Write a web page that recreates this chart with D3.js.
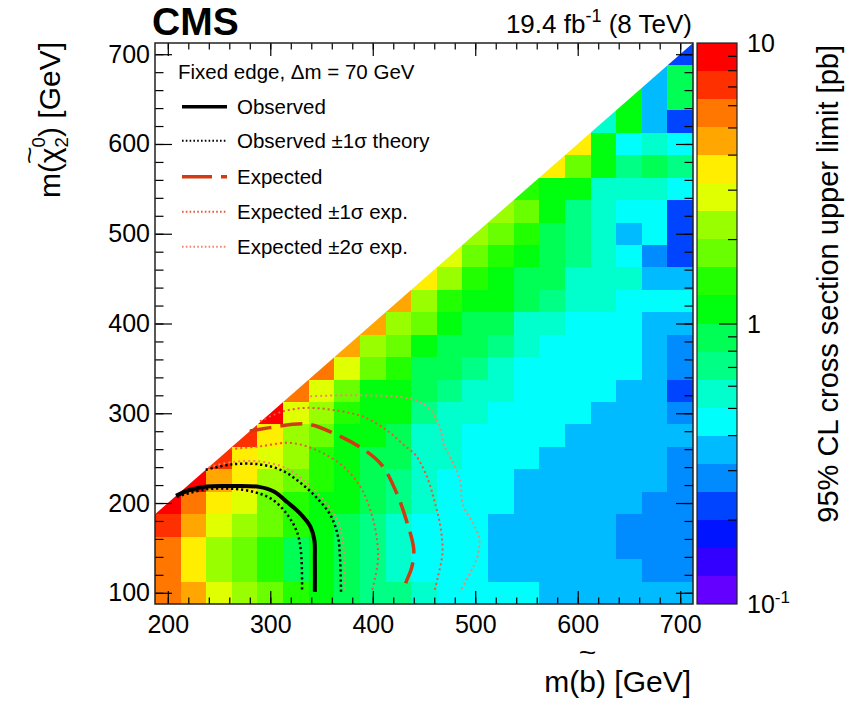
<!DOCTYPE html>
<html><head><meta charset="utf-8">
<script src="https://cdn.jsdelivr.net/npm/d3@7"></script>
<style>
body{margin:0;background:#fff;}
svg{display:block;font-family:"Liberation Sans",Arial,Helvetica,sans-serif;}
</style>
</head><body>
<svg id="chart" width="854" height="707"></svg>
<script>
// ---------------- DATA ----------------
// bin centres
const mSbottom = [200,225,250,275,300,325,350,375,400,425,450,475,500,525,550,575,600,625,650,675,700];
const mChi2    = [100,125,150,175,200,225,250,275,300,325,350,375,400,425,450,475,500,525,550,575,600,625,650,675,700];
// 95% CL cross-section upper limit [pb]; row i = mChi2[i], first entry is column max(0,i-4)
const xsecLimit = [
 [5.62,4.47,2.82,2.24,1.78,1.41,1.12,0.89,0.71,0.71,0.56,0.45,0.45,0.45,0.45,0.35,0.35,0.35,0.35,0.35,0.35],
 [5.62,3.55,2.24,1.78,1.41,0.89,1.12,0.89,0.71,0.56,0.45,0.45,0.45,0.35,0.35,0.35,0.35,0.35,0.35,0.28,0.28],
 [5.62,3.55,2.24,1.78,1.41,0.89,1.12,0.89,0.71,0.56,0.45,0.45,0.45,0.35,0.35,0.35,0.35,0.35,0.28,0.28,0.28],
 [7.08,4.47,2.82,2.24,1.78,1.41,1.12,0.89,0.71,0.56,0.45,0.45,0.45,0.35,0.35,0.35,0.35,0.35,0.28,0.28,0.28],
 [8.91,5.62,3.55,2.82,1.78,1.41,1.12,1.12,0.89,0.71,0.56,0.45,0.45,0.45,0.35,0.35,0.35,0.35,0.35,0.28,0.28],
 [8.91,4.47,3.55,2.24,1.78,1.41,1.12,0.89,0.71,0.56,0.45,0.45,0.45,0.35,0.35,0.35,0.35,0.35,0.35,0.28],
 [7.08,3.55,2.82,2.24,1.41,1.12,0.89,0.89,0.56,0.56,0.45,0.45,0.45,0.35,0.35,0.35,0.35,0.35,0.28],
 [7.08,3.55,2.24,1.78,1.12,1.12,0.89,0.56,0.56,0.45,0.45,0.45,0.45,0.35,0.35,0.35,0.35,0.35],
 [8.91,2.82,2.24,1.41,1.12,1.12,0.71,0.56,0.56,0.45,0.45,0.45,0.45,0.35,0.35,0.35,0.28],
 [5.62,2.82,1.78,1.12,1.12,0.89,0.71,0.56,0.56,0.45,0.45,0.45,0.45,0.35,0.35,0.22],
 [5.62,2.82,1.78,1.41,0.89,0.89,0.71,0.56,0.45,0.45,0.45,0.45,0.45,0.35,0.28],
 [4.47,2.24,1.78,1.12,0.89,0.89,0.71,0.56,0.45,0.45,0.45,0.45,0.35,0.28],
 [4.47,2.24,1.78,1.12,0.89,0.89,0.56,0.56,0.45,0.45,0.45,0.35,0.35],
 [4.47,2.24,1.41,1.12,1.12,0.89,0.71,0.56,0.56,0.45,0.45,0.45],
 [3.55,2.24,1.41,1.12,0.89,0.89,0.56,0.56,0.56,0.35,0.35],
 [2.82,1.78,1.41,1.12,0.89,0.71,0.56,0.45,0.28,0.22],
 [2.24,1.78,1.41,0.89,0.71,0.56,0.35,0.45,0.22],
 [2.24,1.78,1.12,0.71,0.56,0.45,0.45,0.22],
 [1.41,1.12,1.12,0.56,0.56,0.56,0.45],
 [3.55,1.78,1.12,0.71,0.89,0.71],
 [3.55,1.12,0.45,0.56,0.45],
 [0.56,1.12,0.35,0.22],
 [1.12,0.35,0.89],
 [0.35,0.89],
 [0.22]
];
// contours [m(sbottom), m(chi2)] in GeV
const observed     = [[208,208],[221,214.5],[238,218.5],[262,219],[289,218],[304,212.6],[316,201.5],[329,188.5],[339,174],[343,159],[343.5,137],[343.5,101]];
const obsTheoryUp  = [[237,237],[262,243],[290,243],[312,236],[330,222],[346,205],[359,186],[366,163],[368,140],[369,101]];
const obsTheoryDn  = [[209,207],[236,215],[262,216],[285,212],[302,204],[316,188],[326,168],[330,145],[331,101]];
const expected     = [[280,280],[300,284],[336,288],[365,276],[392,259],[409,242],[423,212],[433,180],[440,148],[438,128],[432,110],[431,101]];
const expMinus1    = [[261,260],[289,263],[320,267],[347,258],[372,240],[389,216],[399,187],[404,160],[405,135],[399,101]];
const expPlus1     = [[290,291],[312,302],[336,306],[365,303],[391,296],[415,280],[430,265],[442,253],[453,229],[460,203],[466,174],[468,145],[463,115],[460,101]];
const expMinus2    = [[240,240],[265,246],[292,246],[315,239],[333,225],[350,206],[363,186],[370,163],[372,140],[372,101]];
const expPlus2     = [[339,319],[380,320],[427,318],[447,312],[459,300],[466,282],[470,263],[477,248],[485,226],[488,198],[498,177],[504,160],[502,140],[495,122],[485,101]];
// ticks
const xMajor = [200,300,400,500,600,700];
const yMajor = [100,200,300,400,500,600,700];
const xMinor = [200,220,240,260,280,300,320,340,360,380,400,420,440,460,480,500,520,540,560,580,600,620,640,660,680,700];
const yMinor = [100,120,140,160,180,200,220,240,260,280,300,320,340,360,380,400,420,440,460,480,500,520,540,560,580,600,620,640,660,680,700];
const zMinor = [0.2,0.3,0.4,0.5,0.6,0.7,0.8,0.9,2,3,4,5,6,7,8,9];
const zMajor = [0.1,1,10];

// ---------------- SETUP ----------------
const svg = d3.select("#chart");
const X0=155, X1=693, Y0=43, Y1=604;
const x = d3.scaleLinear().domain([187.5,712.5]).range([X0,X1]);
const y = d3.scaleLinear().domain([87.5,712.5]).range([Y1,Y0]);
const z = d3.scaleLog().domain([0.1,10]).range([Y1,Y0]);
const nLev = 20;
function levelColor(j){ // ROOT "pretty" palette (50 colours) sampled for 20 contours
  const i = Math.floor((j+0.99)*50/nLev);
  const hue = 280 - (i+1)*280/50;
  return d3.hsl(hue,1,0.5).formatHex();
}
function levelOf(v){ return Math.max(0,Math.min(nLev-1,Math.floor((Math.log10(v)+1)*nLev/2))); }

// clip below diagonal
const defs = svg.append("defs");
defs.append("clipPath").attr("id","tri").append("polygon")
  .attr("points",[[x(187.5),y(187.5)],[x(712.5),y(712.5)],[x(712.5),y(87.5)],[x(187.5),y(87.5)]].map(p=>p.join(",")).join(" "));

// ---------------- HEATMAP ----------------
const cells = [];
xsecLimit.forEach((row,i)=>{
  const off = Math.max(0,i-4);
  row.forEach((v,k)=>cells.push({mx:mSbottom[off+k], my:mChi2[i], v}));
});
svg.append("g").attr("clip-path","url(#tri)").selectAll("rect").data(cells).join("rect")
  .attr("x",d=>x(d.mx-12.5)).attr("y",d=>y(d.my+12.5))
  .attr("width",d=>x(d.mx+12.5)-x(d.mx-12.5)).attr("height",d=>y(d.my-12.5)-y(d.my+12.5))
  .attr("fill",d=>levelColor(levelOf(d.v))).attr("shape-rendering","crispEdges");

// ---------------- CONTOURS ----------------
const line = d3.line().x(d=>x(d[0])).y(d=>y(d[1])).curve(d3.curveCatmullRom.alpha(0.5));
const cExp="#d13b12", c1s="#e9573a", c2s="#f2866c";
const styles = [
  {d:expPlus2, stroke:c2s, w:2, dash:"2,3"},
  {d:expMinus2, stroke:c2s, w:2, dash:"2,3"},
  {d:expPlus1, stroke:c1s, w:2, dash:"2,3"},
  {d:expMinus1, stroke:c1s, w:2, dash:"2,3"},
  {d:expected, stroke:cExp, w:3.5, dash:"22,9"},
  {d:obsTheoryUp, stroke:"#000", w:2.5, dash:"2.2,2.8"},
  {d:obsTheoryDn, stroke:"#000", w:2.5, dash:"2.2,2.8"},
  {d:observed, stroke:"#000", w:4, dash:null}
];
svg.append("g").selectAll("path").data(styles).join("path")
  .attr("d",s=>line(s.d)).attr("fill","none").attr("stroke",s=>s.stroke)
  .attr("stroke-width",s=>s.w).attr("stroke-dasharray",s=>s.dash);

// ---------------- AXES ----------------
const fsLab = 25;
function clean(g){ g.select(".domain").remove(); g.selectAll("line").attr("stroke","#000").attr("stroke-width",1.2); }
svg.append("g").attr("transform",`translate(0,${Y1})`).call(d3.axisBottom(x).tickValues(xMinor).tickSize(-6.5).tickFormat("")).call(clean);
svg.append("g").attr("transform",`translate(0,${Y1})`).call(d3.axisBottom(x).tickValues(xMajor).tickSize(-13).tickPadding(11).tickFormat(d3.format("d")))
  .call(clean).call(g=>g.selectAll("text").attr("font-size",fsLab).attr("fill","#000").attr("font-family",null));
svg.append("g").attr("transform",`translate(0,${Y0})`).call(d3.axisTop(x).tickValues(xMinor).tickSize(-6.5).tickFormat("")).call(clean);
svg.append("g").attr("transform",`translate(0,${Y0})`).call(d3.axisTop(x).tickValues(xMajor).tickSize(-13).tickFormat("")).call(clean);
svg.append("g").attr("transform",`translate(${X0},0)`).call(d3.axisLeft(y).tickValues(yMinor).tickSize(-8.5).tickFormat("")).call(clean);
svg.append("g").attr("transform",`translate(${X0},0)`).call(d3.axisLeft(y).tickValues(yMajor).tickSize(-17).tickPadding(5).tickFormat(d3.format("d")))
  .call(clean).call(g=>g.selectAll("text").attr("font-size",fsLab).attr("fill","#000").attr("font-family",null));
svg.append("g").attr("transform",`translate(${X1},0)`).call(d3.axisRight(y).tickValues(yMinor).tickSize(-8.5).tickFormat("")).call(clean);
svg.append("g").attr("transform",`translate(${X1},0)`).call(d3.axisRight(y).tickValues(yMajor).tickSize(-17).tickFormat("")).call(clean);
svg.append("rect").attr("x",X0).attr("y",Y0).attr("width",X1-X0).attr("height",Y1-Y0)
  .attr("fill","none").attr("stroke","#222").attr("stroke-width",1.5);

// ---------------- COLOUR BAR ----------------
const cbX0=697, cbX1=737;
const bands = d3.range(nLev).map(j=>({j, lo:Math.pow(10,-1+j*2/nLev), hi:Math.pow(10,-1+(j+1)*2/nLev)}));
svg.append("g").selectAll("rect").data(bands).join("rect")
  .attr("x",cbX0).attr("width",cbX1-cbX0).attr("y",d=>z(d.hi)).attr("height",d=>z(d.lo)-z(d.hi))
  .attr("fill",d=>levelColor(d.j)).attr("shape-rendering","crispEdges");
svg.append("g").attr("transform",`translate(${cbX1},0)`).call(d3.axisLeft(z).tickValues(zMinor).tickSize(9).tickFormat("")).call(clean);
svg.append("g").attr("transform",`translate(${cbX1},0)`).call(d3.axisLeft(z).tickValues([1]).tickSize(18).tickFormat("")).call(clean);
svg.append("rect").attr("x",cbX0).attr("y",Y0).attr("width",cbX1-cbX0).attr("height",Y1-Y0)
  .attr("fill","none").attr("stroke","#222").attr("stroke-width",1.2);
const zl = svg.append("g").attr("font-size",fsLab);
zMajor.forEach(v=>{
  const t = zl.append("text").attr("x",747).attr("y",z(v)+9);
  if (v===0.1){ t.append("tspan").text("10"); t.append("tspan").attr("dy",-10).attr("font-size",17).text("-1"); }
  else t.text(d3.format("d")(v));
});

// ---------------- TEXT ----------------
function rich(parent, parts, fs){
  const g = parent.append("g");
  let cx = 0;
  parts.forEach(p=>{
    const s = fs*(p.scale||1);
    const t = g.append("text").attr("x",cx).attr("y",(p.dy||0)*fs).attr("font-size",s).text(p.t);
    const w = t.node().getComputedTextLength();
    if (p.tilde!==undefined) g.append("text").attr("x",cx+w/2).attr("y",p.tilde*fs)
      .attr("text-anchor","middle").attr("font-size",fs*0.8).attr("transform-origin",`${cx+w/2} 0`)
      .attr("transform","scale(1.25,1)").text("~");
    if (!p.stack) cx += w;
  });
  return {g, w:cx};
}
const fsTit = 30;
// x title
const xt = rich(svg, [{t:"m("},{t:"b",tilde:-1.02},{t:") [GeV]"}], fsTit);
xt.g.attr("transform",`translate(${691-xt.w},692)`);
// y title
const ytHolder = svg.append("g").attr("transform","translate(60,42) rotate(-90)");
const yt = rich(ytHolder, [{t:"m("},{t:"χ",tilde:-0.72},{t:"2",scale:0.62,dy:0.28,stack:true},{t:"0",scale:0.62,dy:-0.5},{t:") [GeV]"}], fsTit);
yt.g.attr("transform",`translate(${-yt.w},0)`);
// z title
svg.append("text").attr("transform","translate(838,45) rotate(-90)").attr("text-anchor","end")
  .attr("font-size",fsTit-1).text("95% CL cross section upper limit [pb]");
// CMS + lumi
svg.append("text").attr("x",152).attr("y",35).attr("font-size",39).attr("font-weight","bold").text("CMS");
const lumi = svg.append("text").attr("x",692).attr("y",33).attr("text-anchor","end").attr("font-size",26);
lumi.append("tspan").text("19.4 fb");
lumi.append("tspan").attr("dy",-11).attr("font-size",18).text("-1");
lumi.append("tspan").attr("dy",11).text(" (8 TeV)");

// ---------------- LEGEND ----------------
const fsLeg = 20.5;
svg.append("text").attr("x",178).attr("y",79).attr("font-size",fsLeg).text("Fixed edge, \u0394m = 70 GeV");
const legend = [
  {label:"Observed", stroke:"#000", w:3.5, dash:null, y:106.7},
  {label:"Observed \u00b11\u03c3 theory", stroke:"#000", w:2, dash:"1.6,2.2", y:140.7},
  {label:"Expected", stroke:cExp, w:3.5, dash:"30,9", y:176.7},
  {label:"Expected \u00b11\u03c3 exp.", stroke:c1s, w:2, dash:"1.6,2.2", y:211.7},
  {label:"Expected \u00b12\u03c3 exp.", stroke:c2s, w:2, dash:"1.6,2.2", y:246.7}
];
const lg = svg.append("g").selectAll("g").data(legend).join("g");
lg.append("line").attr("x1",182).attr("x2",227).attr("y1",d=>d.y).attr("y2",d=>d.y)
  .attr("stroke",d=>d.stroke).attr("stroke-width",d=>d.w).attr("stroke-dasharray",d=>d.dash);
lg.append("text").attr("x",237).attr("y",d=>d.y+7.3).attr("font-size",fsLeg).text(d=>d.label);
</script>
</body></html>
